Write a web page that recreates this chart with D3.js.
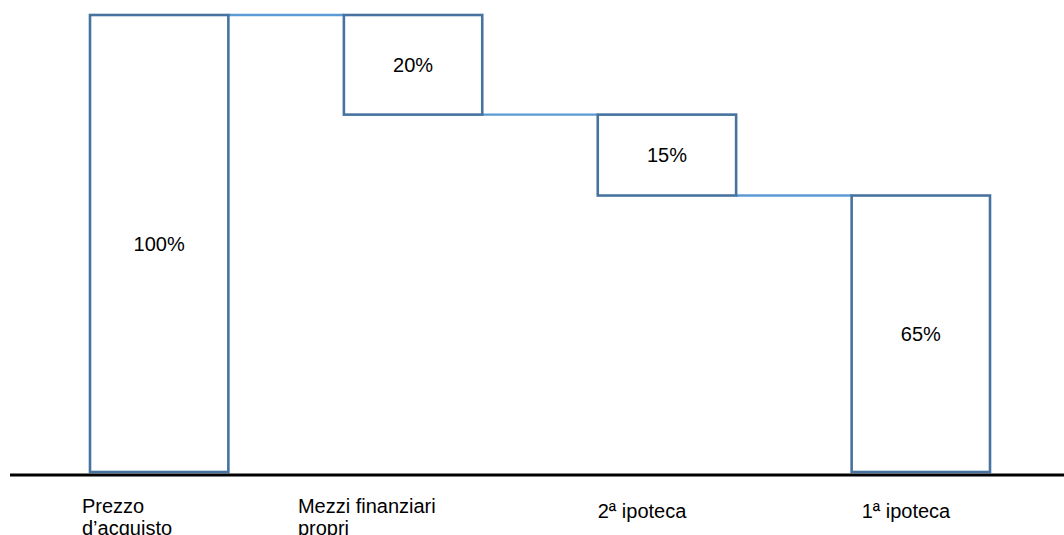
<!DOCTYPE html>
<html>
<head>
<meta charset="utf-8">
<script src="https://cdn.jsdelivr.net/npm/d3@7"></script>
<style>
  body { margin: 0; background: #fff; }
  text { font-family: "Liberation Sans", Arial, sans-serif; fill: #000; }
</style>
</head>
<body>
<div id="chart"></div>
<script>
// categories (lines of each label)
var categories = [["Prezzo", "d\u2019acquisto"], ["Mezzi finanziari", "propri"], ["2\u00aa ipoteca"], ["1\u00aa ipoteca"]];
// value labels written in the boxes
var valueLabels = ["100%", "20%", "15%", "65%"];
// drawn spans of each box (as they appear in the picture)
var barStarts = [100, 100, 78.2, 60.5];
var barEnds = [0, 78.2, 60.5, 0];

var width = 1064, height = 535;
var labelShift = [-8, -46, 0, 10];

var svg = d3.select("#chart")
    .append("svg")
    .attr("width", width)
    .attr("height", height);

var x = d3.scaleBand()
    .domain(d3.range(categories.length))
    .range([90, 990])
    .paddingInner(0.455)
    .paddingOuter(0);

var y = d3.scaleLinear()
    .domain([0, 100])
    .range([472, 15]);

// connectors between boxes
var links = d3.range(categories.length - 1);
svg.selectAll(".link")
    .data(links)
    .enter()
    .append("line")
    .attr("class", "link")
    .attr("x1", function(i){ return x(i) + x.bandwidth(); })
    .attr("x2", function(i){ return x(i + 1); })
    .attr("y1", function(i){ return y(barEnds[i] === 0 ? barStarts[i] : barEnds[i]); })
    .attr("y2", function(i){ return y(barEnds[i] === 0 ? barStarts[i] : barEnds[i]); })
    .attr("stroke", "#5b9bd5")
    .attr("stroke-width", 2.3);

// boxes
svg.selectAll(".bar")
    .data(barStarts)
    .enter()
    .append("rect")
    .attr("class", "bar")
    .attr("x", function(d, i){ return x(i); })
    .attr("y", function(d){ return y(d); })
    .attr("width", x.bandwidth())
    .attr("height", function(d, i){ return y(barEnds[i]) - y(d); })
    .attr("fill", "#fff")
    .attr("stroke", "#46739f")
    .attr("stroke-width", 2.6);

// value text
svg.selectAll(".val")
    .data(valueLabels)
    .enter()
    .append("text")
    .attr("class", "val")
    .attr("x", function(d, i){ return x(i) + x.bandwidth() / 2; })
    .attr("y", function(d, i){ return (y(barStarts[i]) + y(barEnds[i])) / 2; })
    .attr("dy", "0.35em")
    .attr("text-anchor", "middle")
    .style("font-size", "20px")
    .text(function(d){ return d; });

// baseline
svg.append("line")
    .attr("x1", 10)
    .attr("x2", width)
    .attr("y1", y(0) + 3)
    .attr("y2", y(0) + 3)
    .attr("stroke", "#000")
    .attr("stroke-width", 3);

// category labels
var cat = svg.selectAll(".cat")
    .data(categories)
    .enter()
    .append("text")
    .attr("class", "cat")
    .attr("x", function(d, i){ return x(i) + labelShift[i]; })
    .attr("y", function(d){ return d.length > 1 ? 513 : 518; })
    .style("font-size", "20px");

cat.selectAll("tspan")
    .data(function(d, i){ return d.map(function(t){ return {t: t, i: i}; }); })
    .enter()
    .append("tspan")
    .attr("x", function(d){ return x(d.i) + labelShift[d.i]; })
    .attr("dy", function(d, j){ return j === 0 ? 0 : 22; })
    .text(function(d){ return d.t; });
</script>
</body>
</html>
